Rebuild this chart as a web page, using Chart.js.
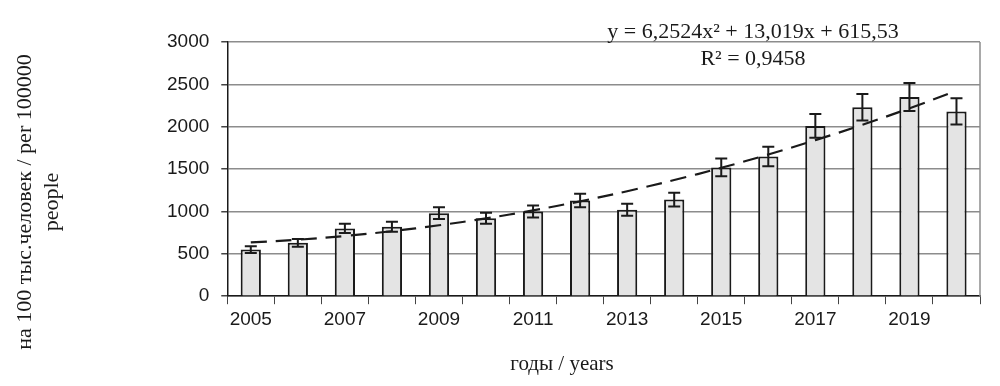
<!DOCTYPE html>
<html>
<head>
<meta charset="utf-8">
<script src="https://cdn.jsdelivr.net/npm/chart.js"></script>
<style>
  html, body { margin: 0; padding: 0; background: #fff; }
  #wrap { width: 1000px; height: 386px; }
</style>
</head>
<body>
<div id="wrap"><canvas id="myChart"></canvas></div>
<script>
const years = ['2005', '2006', '2007', '2008', '2009', '2010', '2011', '2012',
  '2013', '2014', '2015', '2016', '2017', '2018', '2019', '2020']
const rates = [550, 630, 800, 820, 980, 920, 1000, 1130, 1020, 1140, 1520, 1650, 2010, 2230, 2350, 2180]
const errors = [40, 45, 55, 60, 70, 65, 70, 80, 70, 80, 105, 115, 140, 155, 165, 155]
// polynomial trend shown on the chart, y = 6,2524x² + 13,019x + 615,53
const trend = [634.8, 666.58, 710.86, 767.64, 836.93, 918.73, 1013.03, 1119.83,
  1239.14, 1370.96, 1515.28, 1672.11, 1841.44, 2023.27, 2217.61, 2424.44]
const yTicks = [0, 500, 1000, 1500, 2000, 2500, 3000]

const eqLines = ['y = 6,2524x² + 13,019x + 615,53', 'R² = 0,9458']
const yTitle = ['на 100 тыс.человек / per 100000', 'people']
const xTitle = 'годы / years'

const serif = '"Liberation Serif", "Times New Roman", serif'
const sans = '"Liberation Sans", Arial, sans-serif'

const errorBars = {
  id: 'errorBars',
  afterDatasetsDraw (chart) {
    const ctx = chart.ctx
    const meta = chart.getDatasetMeta(1)
    const y = chart.scales.y
    ctx.save()
    ctx.strokeStyle = '#1a1a1a'
    ctx.lineWidth = 2
    meta.data.forEach((bar, i) => {
      const top = y.getPixelForValue(rates[i] + errors[i])
      const bot = y.getPixelForValue(rates[i] - errors[i])
      ctx.beginPath()
      ctx.moveTo(bar.x, top); ctx.lineTo(bar.x, bot)
      ctx.moveTo(bar.x - 6, top); ctx.lineTo(bar.x + 6, top)
      ctx.moveTo(bar.x - 6, bot); ctx.lineTo(bar.x + 6, bot)
      ctx.stroke()
    })
    ctx.restore()
  }
}

const frameAndText = {
  id: 'frameAndText',
  beforeDatasetsDraw (chart) {
    const { ctx, chartArea: a } = chart
    ctx.save()
    ctx.strokeStyle = '#8c8c8c'
    ctx.lineWidth = 1.5
    ctx.beginPath()
    ctx.moveTo(a.right, a.top); ctx.lineTo(a.right, a.bottom)
    ctx.stroke()
    ctx.restore()
  },
  afterDraw (chart) {
    const ctx = chart.ctx
    ctx.save()
    ctx.fillStyle = '#1a1a1a'
    ctx.font = '22px ' + serif
    ctx.textAlign = 'center'
    ctx.textBaseline = 'alphabetic'
    ctx.fillText(eqLines[0], 753, 38)
    ctx.fillText(eqLines[1], 753, 65)

    ctx.font = '21px ' + serif
    ctx.fillText(xTitle, 562, 370)

    ctx.font = '22px ' + serif
    ctx.translate(0, 202)
    ctx.rotate(-Math.PI / 2)
    ctx.textBaseline = 'middle'
    ctx.fillText(yTitle[0], 0, 25)
    ctx.fillText(yTitle[1], 0, 52)
    ctx.restore()
  }
}

const ctx = document.getElementById('myChart')

new Chart(ctx, {
  data: {
    labels: years,
    datasets: [
      {
        type: 'line',
        data: trend,
        borderColor: '#1a1a1a',
        borderWidth: 2.2,
        borderDash: [16, 9],
        pointRadius: 0,
        tension: 0.4,
        fill: false,
        order: 0
      },
      {
        type: 'bar',
        data: rates,
        backgroundColor: '#e4e4e4',
        borderColor: '#1a1a1a',
        borderWidth: 2,
        categoryPercentage: 1,
        barPercentage: 0.43,
        order: 1
      }
    ]
  },
  options: {
    responsive: true,
    maintainAspectRatio: false,
    animation: false,
    layout: { padding: { left: 155, right: 20, top: 42, bottom: 51 } },
    plugins: {
      legend: { display: false },
      tooltip: { enabled: false }
    },
    scales: {
      x: {
        offset: true,
        grid: { offset: true, drawOnChartArea: false, tickLength: 8, color: '#444', lineWidth: 1 },
        border: { color: '#1a1a1a', width: 1.5 },
        ticks: {
          autoSkip: false,
          maxRotation: 0,
          padding: 4,
          color: '#1a1a1a',
          font: { family: sans, size: 19 },
          callback: (v, i) => (i % 2 === 0 ? years[i] : '')
        }
      },
      y: {
        min: 0,
        max: 3000,
        afterBuildTicks: scale => { scale.ticks = yTicks.map(v => ({ value: v })) },
        grid: { color: '#8c8c8c', lineWidth: 1.5, tickLength: 6, tickColor: '#444' },
        border: { color: '#1a1a1a', width: 1.5 },
        ticks: {
          padding: 12,
          color: '#1a1a1a',
          font: { family: sans, size: 19 },
          callback: v => String(v)
        }
      }
    }
  },
  plugins: [frameAndText, errorBars]
})
</script>
</body>
</html>
